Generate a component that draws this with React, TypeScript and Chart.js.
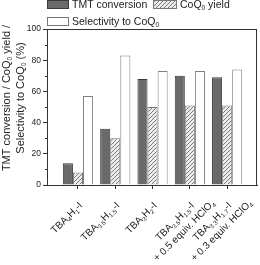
import React, { useEffect, useRef } from "react";
import { Chart, registerables } from "chart.js";

Chart.register(...registerables);

const categories = [
  "TBA_{4}H_{1}-I",
  "TBA_{3.5}H_{1.5}-I",
  "TBA_{3}H_{2}-I",
  "TBA_{3.5}H_{1.5}-I\n+ 0.5 equiv. HClO_{4}",
  "TBA_{3.3}H_{1.7}-I\n+ 0.3 equiv. HClO_{4}",
];
const tmtConversion = [14, 36, 68, 70, 69];
const coq0Yield = [8, 30, 50, 51, 51];
const selectivity = [57, 83, 73, 73, 74];
const yTicks = [0, 20, 40, 60, 80, 100];
const yMinorTicks = [10, 30, 50, 70, 90];
const seriesNames = ["TMT conversion", "CoQ_{0} yield", "Selectivity to CoQ_{0}"];
const yTitleLines = ["TMT conversion / CoQ_{0} yield /", "Selectivity to CoQ_{0} (%)"];

const FONT = "'Liberation Sans', Arial, sans-serif";

type Seg = { t: string; sub: boolean };
function parseRich(s: string): Seg[] {
  const segs: Seg[] = [];
  const re = /_\{([^}]*)\}/g;
  let last = 0;
  let m: RegExpExecArray | null;
  while ((m = re.exec(s))) {
    if (m.index > last) segs.push({ t: s.slice(last, m.index), sub: false });
    segs.push({ t: m[1], sub: true });
    last = re.lastIndex;
  }
  if (last < s.length) segs.push({ t: s.slice(last), sub: false });
  return segs;
}
function richWidth(ctx: CanvasRenderingContext2D, segs: Seg[], size: number) {
  let w = 0;
  for (const s of segs) {
    ctx.font = `${s.sub ? size * 0.62 : size}px ${FONT}`;
    w += ctx.measureText(s.t).width;
  }
  return w;
}
function drawRich(ctx: CanvasRenderingContext2D, segs: Seg[], x: number, y: number, size: number) {
  ctx.textAlign = "left";
  ctx.textBaseline = "middle";
  let cx = x;
  for (const s of segs) {
    ctx.font = `${s.sub ? size * 0.62 : size}px ${FONT}`;
    ctx.fillText(s.t, cx, s.sub ? y + size * 0.32 : y);
    cx += ctx.measureText(s.t).width;
  }
}

function makeHatch(): CanvasPattern | string {
  const c = document.createElement("canvas");
  c.width = 4;
  c.height = 4;
  const g = c.getContext("2d");
  if (!g) return "#ccc";
  g.fillStyle = "#ececec";
  g.fillRect(0, 0, 4, 4);
  g.strokeStyle = "#7a7a7a";
  g.lineWidth = 1;
  g.beginPath();
  g.moveTo(0, 4);
  g.lineTo(4, 0);
  g.moveTo(-1, 1);
  g.lineTo(1, -1);
  g.moveTo(3, 5);
  g.lineTo(5, 3);
  g.stroke();
  const p = g.createPattern(c, "repeat");
  return p || "#ccc";
}

export default function App() {
  const ref = useRef<HTMLCanvasElement | null>(null);
  useEffect(() => {
    document.body.style.margin = "0";
    const canvas = ref.current;
    if (!canvas) return;
    const hatch = makeHatch();
    const xs = categories.map((_, i) => i + 1);

    const customDraw = {
      id: "customDraw",
      afterDraw(chart: any) {
        const ctx: CanvasRenderingContext2D = chart.ctx;
        const ca = chart.chartArea;
        const xS = chart.scales.x;
        const yS = chart.scales.y;
        ctx.save();
        // frame
        ctx.strokeStyle = "#333";
        ctx.lineWidth = 1;
        ctx.strokeRect(Math.round(ca.left) + 0.5, Math.round(ca.top) + 0.5, Math.round(ca.right - ca.left) - 1, Math.round(ca.bottom - ca.top));
        // minor ticks
        ctx.beginPath();
        for (const v of yMinorTicks) {
          const py = Math.round(yS.getPixelForValue(v)) + 0.5;
          ctx.moveTo(ca.left - 2, py);
          ctx.lineTo(ca.left, py);
        }
        ctx.stroke();
        // x labels
        ctx.fillStyle = "#222";
        const size = 10;
        categories.forEach((lab, i) => {
          const px = xS.getPixelForValue(xs[i]);
          const lines = lab.split("\n").map(parseRich);
          const w1 = richWidth(ctx, lines[0], size);
          ctx.save();
          ctx.translate(px + 3, ca.bottom + 19);
          ctx.rotate(-Math.PI / 4);
          drawRich(ctx, lines[0], -w1, 0, size);
          for (let k = 1; k < lines.length; k++) {
            const wk = richWidth(ctx, lines[k], size);
            drawRich(ctx, lines[k], -w1 / 2 - wk / 2, 13 * k, size);
          }
          ctx.restore();
        });
        // y title
        const tsize = 11;
        const tcy = 98;
        const tx = [7, 21];
        yTitleLines.forEach((line, k) => {
          const segs = parseRich(line);
          const w = richWidth(ctx, segs, tsize);
          ctx.save();
          ctx.translate(tx[k], tcy);
          ctx.rotate(-Math.PI / 2);
          drawRich(ctx, segs, -w / 2, 0, tsize);
          ctx.restore();
        });
        // legend
        const lsize = 10.5;
        const items = [
          { x: 47.5, y: 0.5, w: 21, fill: "#6a6a6a", stroke: "#3a3a3a", name: seriesNames[0], tx: 72 },
          { x: 153.5, y: 0.5, w: 23, fill: hatch, stroke: "#777", name: seriesNames[1], tx: 180 },
          { x: 47.5, y: 17.5, w: 21, fill: "#ffffff", stroke: "#777", name: seriesNames[2], tx: 72 },
        ];
        for (const it of items) {
          ctx.fillStyle = it.fill as any;
          ctx.fillRect(it.x, it.y, it.w, 8);
          ctx.strokeStyle = it.stroke;
          ctx.strokeRect(it.x, it.y, it.w, 8);
          ctx.fillStyle = "#222";
          drawRich(ctx, parseRich(it.name), it.tx, it.y + 4.5, lsize);
        }
        ctx.restore();
      },
    };

    const chart = new Chart(canvas, {
      type: "bar",
      data: {
        datasets: [
          {
            label: seriesNames[0],
            data: xs.map((x, i) => ({ x, y: tmtConversion[i] })),
            backgroundColor: "#6a6a6a",
            borderColor: "#3a3a3a",
            borderWidth: 1,
          },
          {
            label: seriesNames[1],
            data: xs.map((x, i) => ({ x, y: coq0Yield[i] })),
            backgroundColor: hatch as any,
            borderColor: "#777",
            borderWidth: 1,
          },
          {
            label: seriesNames[2],
            data: xs.map((x, i) => ({ x, y: selectivity[i] })),
            backgroundColor: "#ffffff",
            borderColor: "#808080",
            borderWidth: 1,
          },
        ] as any,
      },
      options: {
        animation: false,
        responsive: false,
        maintainAspectRatio: false,
        layout: { padding: { top: 29, right: 3, left: 0, bottom: 0 } },
        datasets: { bar: { categoryPercentage: 0.81, barPercentage: 1.0 } } as any,
        plugins: { legend: { display: false }, tooltip: { enabled: false } },
        scales: {
          x: {
            type: "linear",
            offset: false,
            min: 0.17,
            max: 5.8,
            afterBuildTicks: (axis: any) => {
              axis.ticks = xs.map((v) => ({ value: v }));
            },
            afterFit: (axis: any) => {
              axis.height = 80;
            },
            ticks: { display: false },
            grid: { drawOnChartArea: false, tickLength: 4, color: "#333", offset: false },
            border: { display: true, color: "#333" },
          },
          y: {
            type: "linear",
            min: 0,
            max: 100,
            afterBuildTicks: (axis: any) => {
              axis.ticks = yTicks.map((v) => ({ value: v }));
            },
            afterFit: (axis: any) => {
              axis.width = 47;
            },
            ticks: {
              color: "#222",
              padding: 2,
              font: { size: 8.5, family: FONT },
            },
            grid: { drawOnChartArea: false, tickLength: 4, color: "#333" },
            border: { display: true, color: "#333" },
          },
        },
      } as any,
      plugins: [customDraw],
    });
    return () => chart.destroy();
  }, []);
  return (
    <div style={{ width: 260, height: 265 }}>
      <canvas ref={ref} width={260} height={265} style={{ display: "block" }} />
    </div>
  );
}
